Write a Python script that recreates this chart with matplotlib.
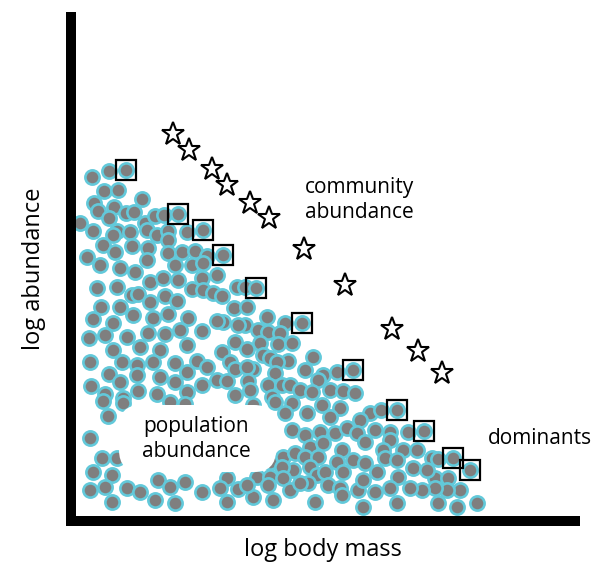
"""
Schematic: population vs community abundance against body mass.
"""
import matplotlib
matplotlib.use("Agg")
import matplotlib.pyplot as plt
from matplotlib.patches import FancyBboxPatch

# species dots (x = body mass, y = abundance, picture units, y downwards)
dots_x = [
    126, 109, 92, 104, 118, 142, 94, 98, 114, 126, 134, 109, 80, 93, 117, 113, 130, 145, 155, 164,
    178, 147, 157, 168, 187, 203, 168, 103, 132, 148, 115, 87, 100, 120, 147, 168, 182, 195, 207, 175,
    192, 203, 135,
    97, 117, 132, 138, 150, 150, 165, 177, 163, 178, 192, 202, 203, 101, 120, 133, 153, 168, 188, 93,
    113, 180, 202, 89, 105, 127, 148, 165, 187, 140, 113, 160, 90, 122, 137, 153, 175, 197, 187, 207,
    109, 120, 137, 160, 175, 202, 91, 105, 138, 157, 187, 123,
    223, 217, 213, 222, 237, 245, 256, 234, 247, 267, 285, 302, 223, 217, 245, 238, 258, 268, 280, 235,
    260, 278, 292, 222, 247, 263, 270, 288, 277, 313, 230, 235, 253, 247, 275, 305, 323, 337, 318, 217,
    227, 248, 268, 282, 290, 300, 312, 330, 343, 235, 250, 272,
    108, 123, 90, 102, 117, 93, 112, 90, 105, 127, 140, 155, 112, 175, 158, 170, 185, 202, 103, 170,
    185,
    253, 275, 292, 285, 307, 322, 340, 330, 292, 305, 320, 335, 347, 310, 323, 342, 283, 295, 305, 318,
    337, 270, 257, 293, 282, 310, 317, 325, 343, 257, 270, 283, 308, 328, 340, 227, 290, 300, 220, 238,
    253, 268, 273, 315, 342, 227, 247,
    353, 355, 370, 381, 360, 397, 357, 375, 365, 390, 408, 390, 424, 383, 403, 417, 385, 353, 365, 377,
    397, 413, 398, 432, 438, 453, 470, 435, 448, 460, 477, 457, 438, 447, 435, 422, 410, 390, 375, 358,
    363, 397, 427, 363,
]
dots_y = [
    170, 171, 177, 191, 190, 199, 203, 211, 207, 213, 212, 218, 223, 231, 231, 235, 232, 223, 216, 215,
    214, 230, 235, 231, 232, 230, 240, 245, 246, 248, 252, 257, 265, 268, 260, 253, 252, 251, 256, 265,
    265, 263, 272,
    288, 287, 295, 294, 302, 282, 296, 301, 278, 280, 289, 278, 290, 307, 307, 315, 318, 314, 318, 319,
    323, 330, 331, 338, 335, 337, 333, 334, 345, 347, 350, 350, 362, 362, 365, 362, 363, 361, 372, 367,
    374, 382, 375, 377, 382, 385, 386, 394, 391, 394, 392, 398,
    255, 275, 293, 296, 287, 287, 288, 308, 307, 317, 323, 323, 322, 321, 325, 325, 330, 332, 333, 342,
    343, 344, 343, 352, 349, 355, 358, 361, 362, 357, 362, 369, 369, 367, 373, 370, 375, 372, 380, 380,
    381, 381, 385, 385, 385, 390, 392, 390, 391, 395, 390, 397,
    416, 403, 438, 458, 458, 472, 475, 490, 487, 488, 492, 500, 502, 503, 480, 487, 482, 492, 401, 402,
    404,
    405, 402, 403, 413, 413, 405, 408, 417, 430, 435, 432, 433, 428, 447, 443, 450, 457, 453, 457, 457,
    462, 462, 455, 470, 467, 467, 475, 472, 472, 477, 477, 478, 483, 485, 488, 478, 490, 483, 488, 489,
    497, 485, 500, 502, 495, 502, 485,
    370, 393, 413, 410, 420, 410, 433, 430, 442, 432, 432, 440, 431, 450, 450, 450, 458, 460, 463, 472,
    460, 468, 477, 458, 459, 458, 470, 478, 478, 490, 503, 507, 503, 490, 488, 490, 488, 488, 492, 490,
    507, 503, 470, 480,
]

# dominant species (boxed)
dom_x = [126, 178, 203, 223, 256, 302, 353, 397, 424, 453, 470]
dom_y = [170, 214, 230, 255, 288, 323, 370, 410, 431, 458, 470]

# community abundance (stars)
star_x = [173, 189, 212, 227, 250, 269, 304, 345, 392, 418, 442]
star_y = [134, 150, 169, 185, 203, 218, 249, 285, 329, 351, 373]

GRAY = "#7f7f7f"
CYAN = "#62c9da"

plt.rcParams["font.family"] = ["Open Sans", "DejaVu Sans"]

fig = plt.figure(figsize=(5.93, 5.64), dpi=100)
ax = fig.add_axes([71 / 593, (564 - 521) / 564, 504 / 593, 504 / 564])
ax.set_xlim(71, 575)
ax.set_ylim(521, 17)

ax.scatter(dots_x, dots_y, s=105, c=GRAY, edgecolors=CYAN, linewidths=1.9, zorder=2)
ax.plot(dom_x, dom_y, ls="none", marker="s", markersize=14.5, mfc="none",
        mec="black", mew=1.6, zorder=3)
ax.plot(star_x, star_y, ls="none", marker="*", markersize=17, mfc="white",
        mec="black", mew=1.5, zorder=3)

# white label patch over the dot cloud
ax.add_patch(FancyBboxPatch((119, 405), 157, 67, boxstyle="round,pad=0,rounding_size=22",
                            fc="white", ec="none", zorder=4))
ax.text(196, 439, "population\nabundance", ha="center", va="center", fontsize=15,
        linespacing=1.2, zorder=5)
ax.text(305, 200, "community\nabundance", ha="left", va="center", fontsize=15, linespacing=1.2)
ax.text(488, 438, "dominants", ha="left", va="center", fontsize=15, clip_on=False)

for side in ["top", "right"]:
    ax.spines[side].set_visible(False)
for side in ["left", "bottom"]:
    ax.spines[side].set_linewidth(7.2)
    ax.spines[side].set_capstyle("projecting")
ax.set_xticks([])
ax.set_yticks([])
ax.set_xlabel("log body mass", fontsize=17, labelpad=12)
ax.set_ylabel("log abundance", fontsize=17, labelpad=18)

fig.savefig("out.png", dpi=100)
